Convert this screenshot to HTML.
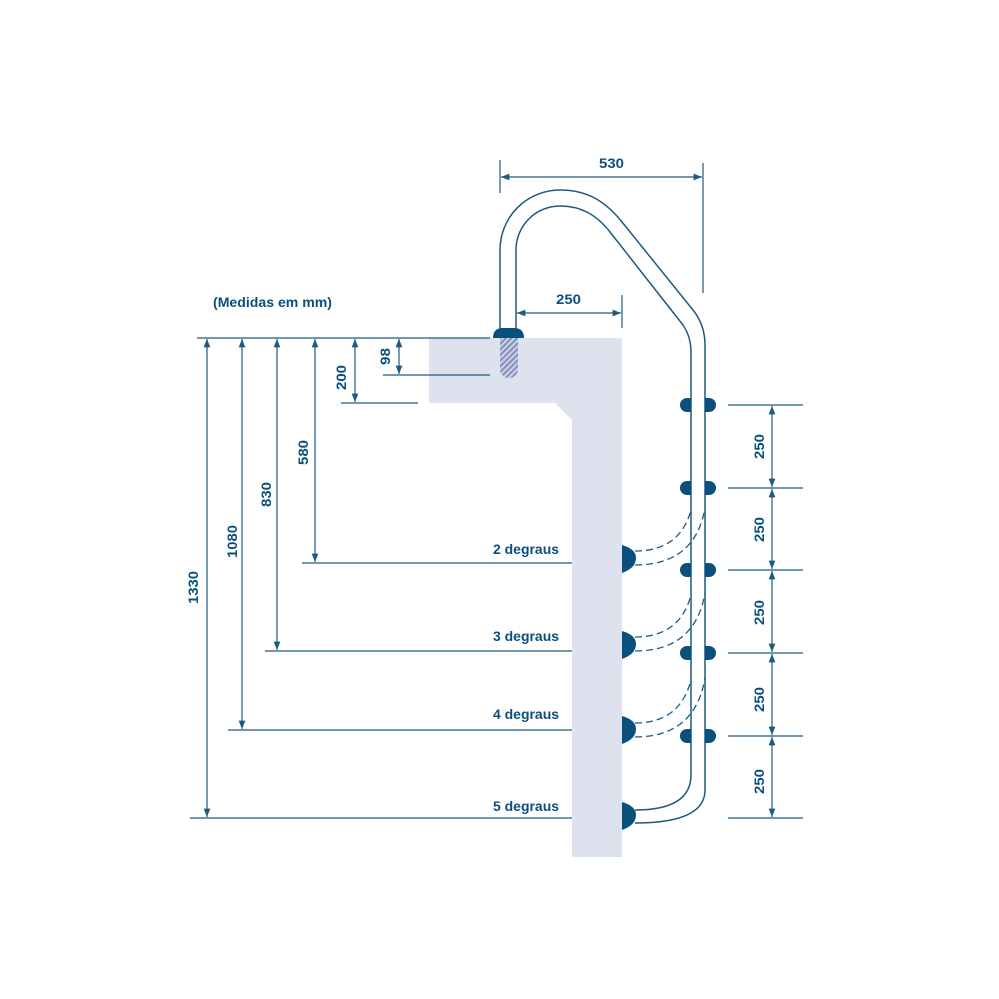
<!DOCTYPE html>
<html><head><meta charset="utf-8"><style>
html,body{margin:0;padding:0;background:#fff;}
svg{display:block;}
text{font-family:"Liberation Sans",sans-serif;font-weight:bold;fill:#0b4f7c;font-size:14px;}
</style></head><body>
<svg width="999" height="999" viewBox="0 0 999 999" xmlns="http://www.w3.org/2000/svg">
<defs>
<marker id="a" viewBox="0 0 10 10" refX="10" refY="5" markerWidth="7" markerHeight="7" orient="auto-start-reverse"><path d="M0,1 L10,5 L0,9 z" fill="#1d5a80"/></marker>
<pattern id="h" width="4" height="4" patternUnits="userSpaceOnUse" patternTransform="rotate(45)"><rect width="4" height="4" fill="#c9cde0"/><rect width="1.6" height="4" fill="#7a86b8"/></pattern>
</defs>
<path d="M429,338 H622 V857 H572 V420 L555,403 H429 Z" fill="#dde2ee"/>
<g stroke="#1d5a80" stroke-width="1.2" fill="none">
<line x1="197" y1="338" x2="490" y2="338"/>
<line x1="383" y1="375" x2="490" y2="375"/>
<line x1="341" y1="403" x2="418" y2="403"/>
<line x1="302" y1="563" x2="572" y2="563"/>
<line x1="265" y1="651" x2="572" y2="651"/>
<line x1="228" y1="730" x2="572" y2="730"/>
<line x1="190" y1="818" x2="572" y2="818"/>
<line x1="207" y1="339" x2="207" y2="817" marker-start="url(#a)" marker-end="url(#a)"/>
<line x1="242" y1="339" x2="242" y2="729" marker-start="url(#a)" marker-end="url(#a)"/>
<line x1="277" y1="339" x2="277" y2="650" marker-start="url(#a)" marker-end="url(#a)"/>
<line x1="315" y1="339" x2="315" y2="562" marker-start="url(#a)" marker-end="url(#a)"/>
<line x1="355" y1="339" x2="355" y2="402" marker-start="url(#a)" marker-end="url(#a)"/>
<line x1="399" y1="339" x2="399" y2="374" marker-start="url(#a)" marker-end="url(#a)"/>
<line x1="500" y1="160" x2="500" y2="193"/>
<line x1="703" y1="163" x2="703" y2="293"/>
<line x1="501" y1="177" x2="702" y2="177" marker-start="url(#a)" marker-end="url(#a)"/>
<line x1="622" y1="295" x2="622" y2="328"/>
<line x1="517" y1="313" x2="621" y2="313" marker-start="url(#a)" marker-end="url(#a)"/>
<line x1="728" y1="405" x2="803" y2="405"/>
<line x1="728" y1="488" x2="803" y2="488"/>
<line x1="728" y1="570" x2="803" y2="570"/>
<line x1="728" y1="653" x2="803" y2="653"/>
<line x1="728" y1="736" x2="803" y2="736"/>
<line x1="728" y1="818" x2="803" y2="818"/>
<line x1="772" y1="406" x2="772" y2="487" marker-start="url(#a)" marker-end="url(#a)"/>
<line x1="772" y1="489" x2="772" y2="569" marker-start="url(#a)" marker-end="url(#a)"/>
<line x1="772" y1="571" x2="772" y2="652" marker-start="url(#a)" marker-end="url(#a)"/>
<line x1="772" y1="654" x2="772" y2="735" marker-start="url(#a)" marker-end="url(#a)"/>
<line x1="772" y1="737" x2="772" y2="817" marker-start="url(#a)" marker-end="url(#a)"/>
<path d="M500,330 V250 A60,60 0 0 1 560,190 C588,190 606,202 622,222 L693,310 Q705,325 705,345 V790 Q705,823 635,823" stroke-width="1.5"/>
<path d="M516,330 V250 A44,44 0 0 1 560,206 C580,206 596,214 610,232 L683,325 Q691,337 691,352 V775 Q691,810 635,810" stroke-width="1.5"/>
<g stroke-dasharray="7,4" stroke-width="1.3">
<path d="M635,551 Q680,551 691,510"/><path d="M635,565 Q695,565 705,508"/>
<path d="M635,637 Q680,637 691,595"/><path d="M635,651 Q695,651 705,593"/>
<path d="M635,723 Q680,723 691,680"/><path d="M635,737 Q695,737 705,678"/>
</g>
</g>
<rect x="500" y="338" width="18" height="40" rx="9" fill="url(#h)"/>
<rect x="500" y="338" width="18" height="20" fill="url(#h)"/>
<path d="M493,338 Q493,328 503,328 H514 Q524,328 524,338 Z" fill="#0b4f7c"/>
<g fill="#0b4f7c">
<path d="M691,398 H687 A7,7 0 0 0 687,412 H691 Z M705,398 H709 A7,7 0 0 1 709,412 H705 Z"/>
<path d="M691,481 H687 A7,7 0 0 0 687,495 H691 Z M705,481 H709 A7,7 0 0 1 709,495 H705 Z"/>
<path d="M691,563 H687 A7,7 0 0 0 687,577 H691 Z M705,563 H709 A7,7 0 0 1 709,577 H705 Z"/>
<path d="M691,646 H687 A7,7 0 0 0 687,660 H691 Z M705,646 H709 A7,7 0 0 1 709,660 H705 Z"/>
<path d="M691,729 H687 A7,7 0 0 0 687,743 H691 Z M705,729 H709 A7,7 0 0 1 709,743 H705 Z"/>
<path d="M622,545 Q636,549 636,558 Q636,568 622,573 Z"/>
<path d="M622,631 Q636,635 636,644 Q636,654 622,659 Z"/>
<path d="M622,716 Q636,720 636,729 Q636,739 622,744 Z"/>
<path d="M622,802 Q636,806 636,815 Q636,825 622,830 Z"/>
</g>
<text x="213" y="307" textLength="119" lengthAdjust="spacingAndGlyphs">(Medidas em mm)</text>
<text x="599" y="168" textLength="25" lengthAdjust="spacingAndGlyphs">530</text>
<text x="556" y="304" textLength="25" lengthAdjust="spacingAndGlyphs">250</text>
<text x="493" y="554" textLength="66" lengthAdjust="spacingAndGlyphs">2 degraus</text>
<text x="493" y="641" textLength="66" lengthAdjust="spacingAndGlyphs">3 degraus</text>
<text x="493" y="719" textLength="66" lengthAdjust="spacingAndGlyphs">4 degraus</text>
<text x="493" y="811" textLength="66" lengthAdjust="spacingAndGlyphs">5 degraus</text>
<text transform="translate(198,604) rotate(-90)" textLength="33" lengthAdjust="spacingAndGlyphs">1330</text>
<text transform="translate(237,558) rotate(-90)" textLength="33" lengthAdjust="spacingAndGlyphs">1080</text>
<text transform="translate(271,507) rotate(-90)" textLength="25" lengthAdjust="spacingAndGlyphs">830</text>
<text transform="translate(308,465) rotate(-90)" textLength="25" lengthAdjust="spacingAndGlyphs">580</text>
<text transform="translate(346,390) rotate(-90)" textLength="25" lengthAdjust="spacingAndGlyphs">200</text>
<text transform="translate(390,365) rotate(-90)" textLength="17" lengthAdjust="spacingAndGlyphs">98</text>
<text transform="translate(764,459) rotate(-90)" textLength="25" lengthAdjust="spacingAndGlyphs">250</text>
<text transform="translate(764,542) rotate(-90)" textLength="25" lengthAdjust="spacingAndGlyphs">250</text>
<text transform="translate(764,625) rotate(-90)" textLength="25" lengthAdjust="spacingAndGlyphs">250</text>
<text transform="translate(764,712) rotate(-90)" textLength="25" lengthAdjust="spacingAndGlyphs">250</text>
<text transform="translate(764,794) rotate(-90)" textLength="25" lengthAdjust="spacingAndGlyphs">250</text>
</svg>
</body></html>
